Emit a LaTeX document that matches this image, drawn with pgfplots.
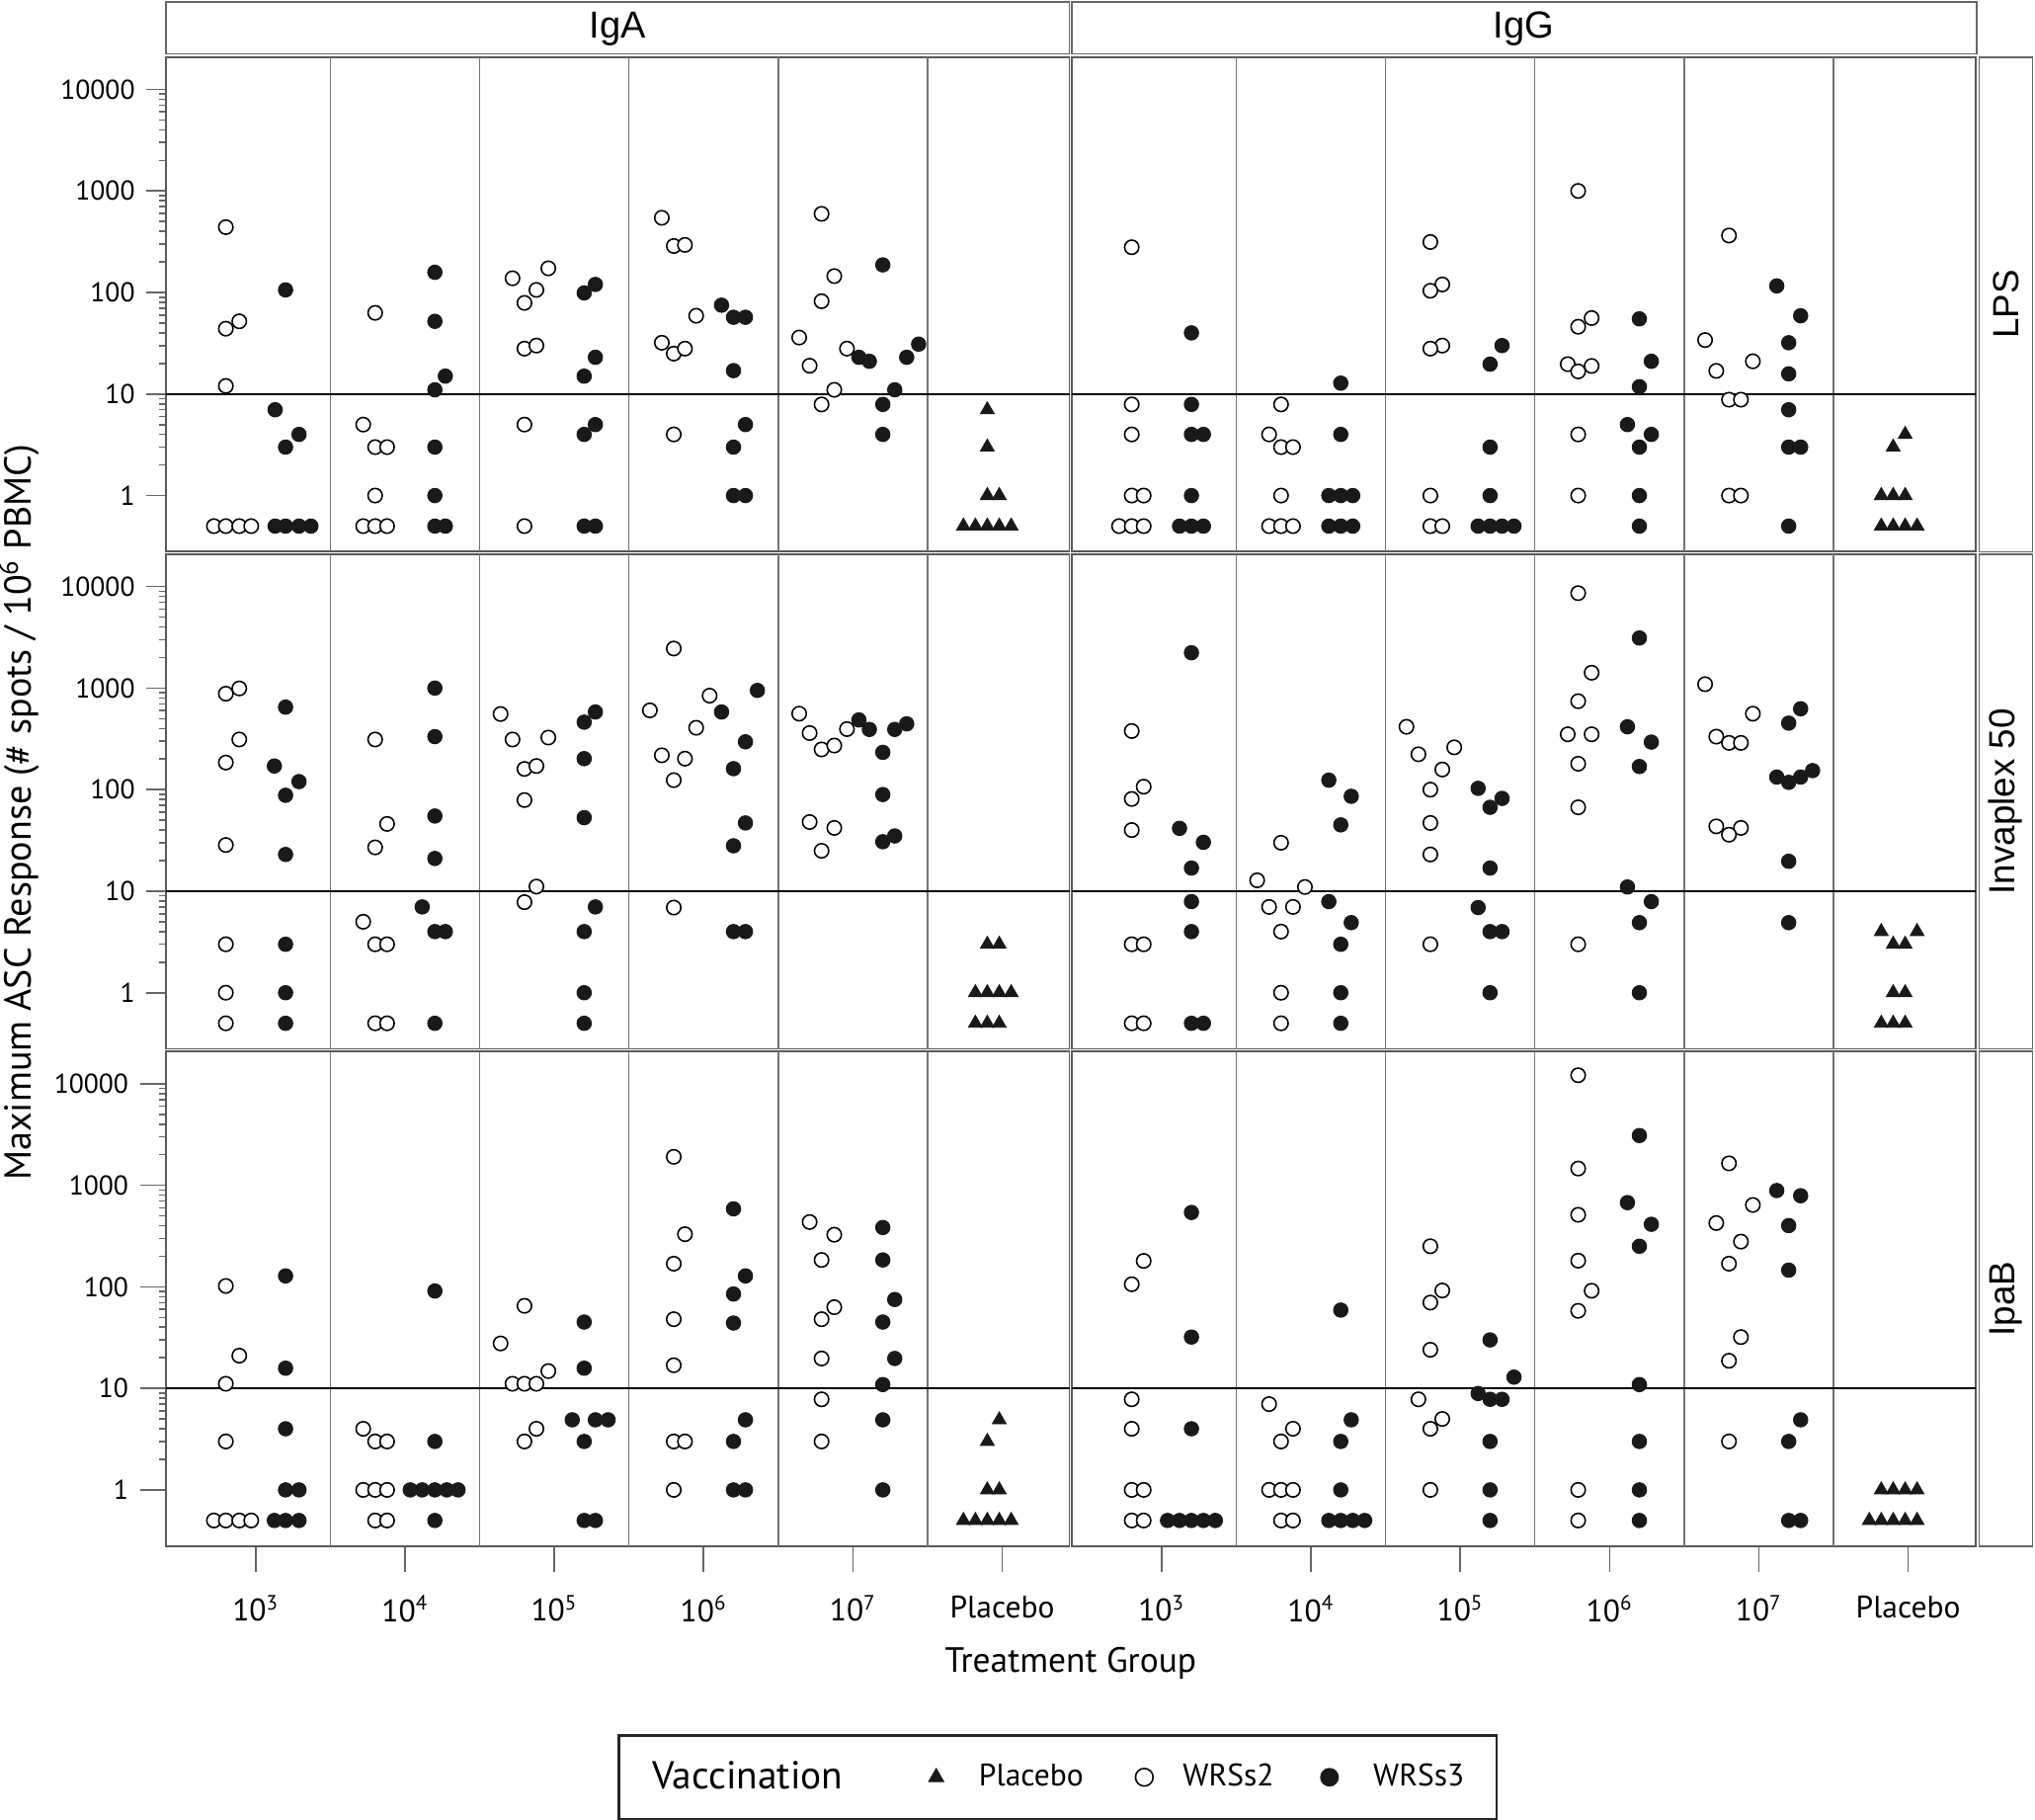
\documentclass[border=0pt]{standalone}
\usepackage{fontspec}
\setmainfont{PT Sans}
\newfontfamily\stripfont{Liberation Sans}
\usepackage{pgfplots}
\pgfplotsset{compat=1.18}

\pgfplotsset{
  every axis/.append style={scale only axis, width=348pt, height=190.5pt,
    xmin=0.4, xmax=6.45, ymin=0.28, ymax=20800, anchor=north west,
    axis line style={draw=black!65, line width=0.7pt},
    extra x ticks={1.5,2.5,3.5,4.5,5.5}, extra x tick labels={},
    extra x tick style={grid=major, major grid style={draw=black!55, line width=0.5pt},
      tick style={draw=none}},
    extra y ticks={10}, extra y tick labels={},
    extra y tick style={grid=major, major grid style={draw=black, line width=0.7pt},
      tick style={draw=none}},
    tick align=outside, tick style={draw=black!60, line width=0.6pt}},
  ylab/.style={ytick={1,10,100,1000,10000}, yticklabels={1,10,100,1000,10000},
    ytick pos=left, major tick length=7.5pt,
    yticklabel style={font=\fontsize{10.5}{12}\selectfont, xshift=-1pt}},
  xlab/.style={xtick={1,2,3,4,5,6},
    xticklabels={10\textsuperscript{3},10\textsuperscript{4},10\textsuperscript{5},
      10\textsuperscript{6},10\textsuperscript{7},Placebo},
    xtick pos=bottom, major tick length=10pt,
    xticklabel style={font=\fontsize{12}{14}\selectfont, yshift=-5.5pt}},
  wrs2/.style={only marks, mark=*, mark size=2.75pt,
    mark options={draw=black, fill=white, line width=0.6pt}},
  wrs3/.style={only marks, mark=*, mark size=2.75pt,
    mark options={draw=black!90, fill=black!90, line width=0.4pt}},
  plac/.style={only marks, mark=triangle*, mark size=3.1pt,
    mark options={draw=black!90, fill=black!90, line width=0.3pt}},
}

\begin{document}
\begin{tikzpicture}
\useasboundingbox (0,0) rectangle (784pt,-701pt);

% ---------- row 1: LPS ----------
\begin{axis}[ymode=log, xtick=\empty, ylab, at={(64pt,-22pt)}]
\addplot[wrs2] coordinates {
 (0.80,440) (0.80,44) (0.89,52) (0.80,12) (0.72,0.5) (0.80,0.5) (0.89,0.5) (0.97,0.5)
 (1.80,63) (1.72,5) (1.80,3) (1.88,3) (1.80,1) (1.72,0.5) (1.80,0.5) (1.88,0.5)
 (2.72,138) (2.96,173) (2.88,106) (2.80,79) (2.80,28) (2.88,30) (2.80,5) (2.80,0.5)
 (3.72,544) (3.80,287) (3.875,294) (3.95,59) (3.72,32) (3.80,25) (3.875,28) (3.80,4)
 (4.79,595) (4.875,145) (4.79,82) (4.64,36) (4.71,19) (4.96,28) (4.875,11) (4.79,7.9)};
\addplot[wrs3] coordinates {
 (1.20,106) (1.13,7) (1.20,3) (1.29,4) (1.13,0.5) (1.20,0.5) (1.29,0.5) (1.37,0.5)
 (2.20,158) (2.20,52) (2.27,15) (2.20,11) (2.20,3) (2.20,1) (2.20,0.5) (2.27,0.5)
 (3.20,99) (3.275,120) (3.275,23) (3.20,15) (3.275,5) (3.20,4) (3.20,0.5) (3.275,0.5)
 (4.12,75) (4.20,57) (4.28,57) (4.20,17) (4.28,5) (4.20,3) (4.20,1) (4.28,1)
 (5.20,187) (5.04,23) (5.11,21) (5.36,23) (5.44,31) (5.28,11) (5.20,7.9) (5.20,4)};
\addplot[plac] coordinates {
 (5.90,7) (5.90,3) (5.90,1) (5.98,1) (5.74,0.5) (5.82,0.5) (5.90,0.5) (5.98,0.5) (6.06,0.5)};
\end{axis}

\begin{axis}[ymode=log, xtick=\empty, ytick=\empty, at={(413pt,-22pt)}]
\addplot[wrs2] coordinates {
 (0.80,279) (0.80,7.9) (0.80,4) (0.80,1) (0.88,1) (0.715,0.5) (0.80,0.5) (0.88,0.5)
 (1.80,7.9) (1.72,4) (1.80,3) (1.88,3) (1.80,1) (1.72,0.5) (1.80,0.5) (1.88,0.5)
 (2.80,314) (2.88,120) (2.80,104) (2.88,30) (2.80,28) (2.80,1) (2.80,0.5) (2.88,0.5)
 (3.79,1000) (3.88,56) (3.79,46) (3.72,19.7) (3.88,18.9) (3.79,16.7) (3.79,4) (3.79,1)
 (4.80,364) (4.64,34) (4.96,21) (4.715,16.9) (4.80,8.8) (4.88,8.8) (4.80,1) (4.88,1)};
\addplot[wrs3] coordinates {
 (1.20,40) (1.20,7.9) (1.20,4) (1.28,4) (1.20,1) (1.12,0.5) (1.20,0.5) (1.28,0.5)
 (2.20,12.8) (2.20,4) (2.12,1) (2.20,1) (2.28,1) (2.12,0.5) (2.20,0.5) (2.28,0.5)
 (3.28,30) (3.20,19.7) (3.20,3) (3.20,1) (3.12,0.5) (3.20,0.5) (3.28,0.5) (3.36,0.5)
 (4.20,55) (4.28,21) (4.20,11.8) (4.12,5) (4.28,4) (4.20,3) (4.20,1) (4.20,0.5)
 (5.12,116) (5.28,59) (5.20,32) (5.20,15.8) (5.20,7) (5.20,3) (5.28,3) (5.20,0.5)};
\addplot[plac] coordinates {
 (5.98,4) (5.90,3) (5.82,1) (5.90,1) (5.98,1) (5.82,0.5) (5.90,0.5) (5.98,0.5) (6.06,0.5)};
\end{axis}

% ---------- row 2: Invaplex 50 ----------
\begin{axis}[ymode=log, xtick=\empty, ylab, at={(64pt,-213.5pt)}]
\addplot[wrs2] coordinates {
 (0.80,881) (0.89,993) (0.89,312) (0.80,185) (0.80,28.5) (0.80,3) (0.80,1) (0.80,0.5)
 (1.80,312) (1.88,46) (1.80,27) (1.72,5) (1.80,3) (1.88,3) (1.80,0.5) (1.88,0.5)
 (2.64,556) (2.72,312) (2.96,326) (2.80,160) (2.88,171) (2.80,79) (2.88,11.1) (2.80,7.8)
 (3.80,2455) (3.64,604) (4.04,843) (3.95,407) (3.72,218) (3.875,202) (3.80,124) (3.80,6.9)
 (4.64,560) (4.71,361) (4.96,395) (4.79,249) (4.875,272) (4.71,48) (4.875,42) (4.79,25)};
\addplot[wrs3] coordinates {
 (1.20,650) (1.125,171) (1.29,120) (1.20,88) (1.20,23) (1.20,3) (1.20,1) (1.20,0.5)
 (2.20,1000) (2.20,333) (2.20,55) (2.20,21) (2.115,7) (2.20,4) (2.27,4) (2.20,0.5)
 (3.20,462) (3.275,582) (3.20,202) (3.20,53) (3.275,7) (3.20,4) (3.20,1) (3.20,0.5)
 (4.36,949) (4.12,582) (4.28,296) (4.20,161) (4.28,47) (4.20,28) (4.20,4) (4.28,4)
 (5.04,486) (5.11,392) (5.28,392) (5.36,445) (5.20,233) (5.20,89.5) (5.28,35) (5.20,30.7)};
\addplot[plac] coordinates {
 (5.90,3) (5.98,3) (5.82,1) (5.90,1) (5.98,1) (6.06,1) (5.82,0.5) (5.90,0.5) (5.98,0.5)};
\end{axis}

\begin{axis}[ymode=log, xtick=\empty, ytick=\empty, at={(413pt,-213.5pt)}]
\addplot[wrs2] coordinates {
 (0.80,378) (0.88,107) (0.80,81) (0.80,40) (0.80,3) (0.88,3) (0.80,0.5) (0.88,0.5)
 (1.80,30) (1.64,12.8) (1.96,11) (1.72,7) (1.88,7) (1.80,4) (1.80,1) (1.80,0.5)
 (2.64,416) (2.96,261) (2.72,223) (2.88,158) (2.80,100) (2.80,47) (2.80,23) (2.80,3)
 (3.79,8620) (3.88,1418) (3.79,743) (3.72,351) (3.88,351) (3.79,180) (3.79,67) (3.79,3)
 (4.64,1093) (4.96,560) (4.715,333) (4.80,289) (4.88,289) (4.715,43.5) (4.88,42) (4.80,36)};
\addplot[wrs3] coordinates {
 (1.20,2230) (1.12,41.6) (1.28,30.3) (1.20,16.9) (1.20,7.9) (1.20,4) (1.20,0.5) (1.28,0.5)
 (2.12,124) (2.27,86) (2.20,45) (2.12,7.9) (2.27,4.9) (2.20,3) (2.20,1) (2.20,0.5)
 (3.12,103) (3.28,82) (3.20,67) (3.20,16.9) (3.12,6.9) (3.20,4) (3.28,4) (3.20,1)
 (4.20,3116) (4.12,416) (4.28,294) (4.20,169) (4.12,11) (4.28,7.9) (4.20,4.9) (4.20,1)
 (5.28,626) (5.20,452) (5.36,154) (5.12,133) (5.28,133) (5.20,118) (5.20,19.7) (5.20,4.9)};
\addplot[plac] coordinates {
 (5.82,4) (6.06,4) (5.90,3) (5.98,3) (5.90,1) (5.98,1) (5.82,0.5) (5.90,0.5) (5.98,0.5)};
\end{axis}

% ---------- row 3: IpaB ----------
\begin{axis}[ymode=log, ylab, xlab, at={(64pt,-405pt)},
  legend columns=4,
  legend image post style={mark size=3.4pt},
  legend style={at={(0.987,-0.4675)}, anchor=center, draw=black!85, line width=1pt,
    font=\fontsize{12}{14}\selectfont, inner xsep=5pt, inner ysep=8pt,
    /tikz/every odd column/.append style={column sep=3.5pt},
    /tikz/every even column/.append style={column sep=9.5pt}}]
\addlegendimage{empty legend}
\addlegendentry{\rule{2.5pt}{0pt}\fontsize{15}{18}\selectfont Vaccination\rule{21.5pt}{0pt}}
\addlegendimage{plac}\addlegendentry{\rule{8pt}{0pt}Placebo\rule{8.5pt}{0pt}}
\addlegendimage{wrs2}\addlegendentry{\rule{6pt}{0pt}WRSs2\rule{6.5pt}{0pt}}
\addlegendimage{wrs3}\addlegendentry{\rule{8pt}{0pt}WRSs3\rule{5.5pt}{0pt}}
\addplot[wrs2, forget plot] coordinates {
 (0.80,102) (0.89,21) (0.80,11.1) (0.80,3) (0.72,0.5) (0.80,0.5) (0.89,0.5) (0.97,0.5)
 (1.72,4) (1.80,3) (1.88,3) (1.72,1) (1.80,1) (1.88,1) (1.80,0.5) (1.88,0.5)
 (2.80,65) (2.64,27.7) (2.96,14.8) (2.72,11.1) (2.80,11.1) (2.88,11.1) (2.88,4) (2.80,3)
 (3.80,1908) (3.875,330) (3.80,169) (3.80,48) (3.80,16.9) (3.80,3) (3.875,3) (3.80,1)
 (4.71,435) (4.875,326) (4.79,184) (4.875,63) (4.79,48) (4.79,19.7) (4.79,7.8) (4.79,3)};
\addplot[wrs3, forget plot] coordinates {
 (1.20,128) (1.20,15.8) (1.20,4) (1.20,1) (1.29,1) (1.125,0.5) (1.20,0.5) (1.29,0.5)
 (2.20,91) (2.20,3) (2.035,1) (2.115,1) (2.20,1) (2.28,1) (2.355,1) (2.20,0.5)
 (3.20,45) (3.20,15.8) (3.12,4.9) (3.275,4.9) (3.36,4.9) (3.20,3) (3.20,0.5) (3.275,0.5)
 (4.20,586) (4.28,128) (4.20,85) (4.20,44) (4.28,4.9) (4.20,3) (4.20,1) (4.28,1)
 (5.20,384) (5.20,184) (5.28,75) (5.20,45) (5.28,19.7) (5.20,10.9) (5.20,4.9) (5.20,1)};
\addplot[plac, forget plot] coordinates {
 (5.98,4.9) (5.90,3) (5.90,1) (5.98,1) (5.74,0.5) (5.82,0.5) (5.90,0.5) (5.98,0.5) (6.06,0.5)};
\end{axis}

\begin{axis}[ymode=log, ytick=\empty, xlab, at={(413pt,-405pt)}]
\addplot[wrs2] coordinates {
 (0.88,180) (0.80,106) (0.80,7.8) (0.80,4) (0.80,1) (0.88,1) (0.80,0.5) (0.88,0.5)
 (1.72,7) (1.88,4) (1.80,3) (1.72,1) (1.80,1) (1.88,1) (1.80,0.5) (1.88,0.5)
 (2.80,251) (2.88,92) (2.80,70) (2.80,24) (2.72,7.8) (2.88,5) (2.80,4) (2.80,1)
 (3.79,12130) (3.79,1462) (3.79,512) (3.79,181) (3.88,91.5) (3.79,58) (3.79,1) (3.79,0.5)
 (4.80,1644) (4.96,640) (4.715,425) (4.88,279) (4.80,169) (4.88,32) (4.80,18.7) (4.80,3)};
\addplot[wrs3] coordinates {
 (1.20,540) (1.20,32) (1.20,4) (1.04,0.5) (1.12,0.5) (1.20,0.5) (1.28,0.5) (1.36,0.5)
 (2.20,59) (2.27,4.9) (2.20,3) (2.20,1) (2.12,0.5) (2.20,0.5) (2.28,0.5) (2.36,0.5)
 (3.20,30) (3.36,12.9) (3.12,8.9) (3.20,7.8) (3.28,7.8) (3.20,3) (3.20,1) (3.20,0.5)
 (4.20,3090) (4.12,675) (4.28,413) (4.20,251) (4.20,10.9) (4.20,3) (4.20,1) (4.20,0.5)
 (5.12,888) (5.28,789) (5.20,401) (5.20,146) (5.28,4.9) (5.20,3) (5.20,0.5) (5.28,0.5)};
\addplot[plac] coordinates {
 (5.82,1) (5.90,1) (5.98,1) (6.06,1) (5.74,0.5) (5.82,0.5) (5.90,0.5) (5.98,0.5) (6.06,0.5)};
\end{axis}

% ---------- strips and labels ----------
\begin{scope}[draw=black!60, line width=0.6pt]
  \draw (64pt,-0.8pt) rectangle (412pt,-20.8pt);
  \draw (413pt,-0.8pt) rectangle (761.5pt,-20.8pt);
  \draw (762.5pt,-22pt) rectangle (783pt,-212.5pt);
  \draw (762.5pt,-213.5pt) rectangle (783pt,-404pt);
  \draw (762.5pt,-405pt) rectangle (783pt,-595.5pt);
\end{scope}
\node[font=\stripfont\fontsize{14.5}{16}\selectfont] at (238pt,-11pt) {IgA};
\node[font=\stripfont\fontsize{14.5}{16}\selectfont] at (587pt,-11pt) {IgG};
\node[font=\stripfont\fontsize{14}{16}\selectfont, rotate=90] at (772.75pt,-117.25pt) {LPS};
\node[font=\stripfont\fontsize{14}{16}\selectfont, rotate=90] at (772.75pt,-308.75pt) {Invaplex 50};
\node[font=\stripfont\fontsize{14}{16}\selectfont, rotate=90] at (772.75pt,-500.25pt) {IpaB};
\node[font=\fontsize{14.5}{16}\selectfont, rotate=90] at (7.5pt,-313pt)
  {Maximum ASC Response (\# spots / 10\textsuperscript{6} PBMC)};
\node[font=\fontsize{13.5}{15}\selectfont] at (412.5pt,-640.5pt) {Treatment Group};
\end{tikzpicture}
\end{document}
